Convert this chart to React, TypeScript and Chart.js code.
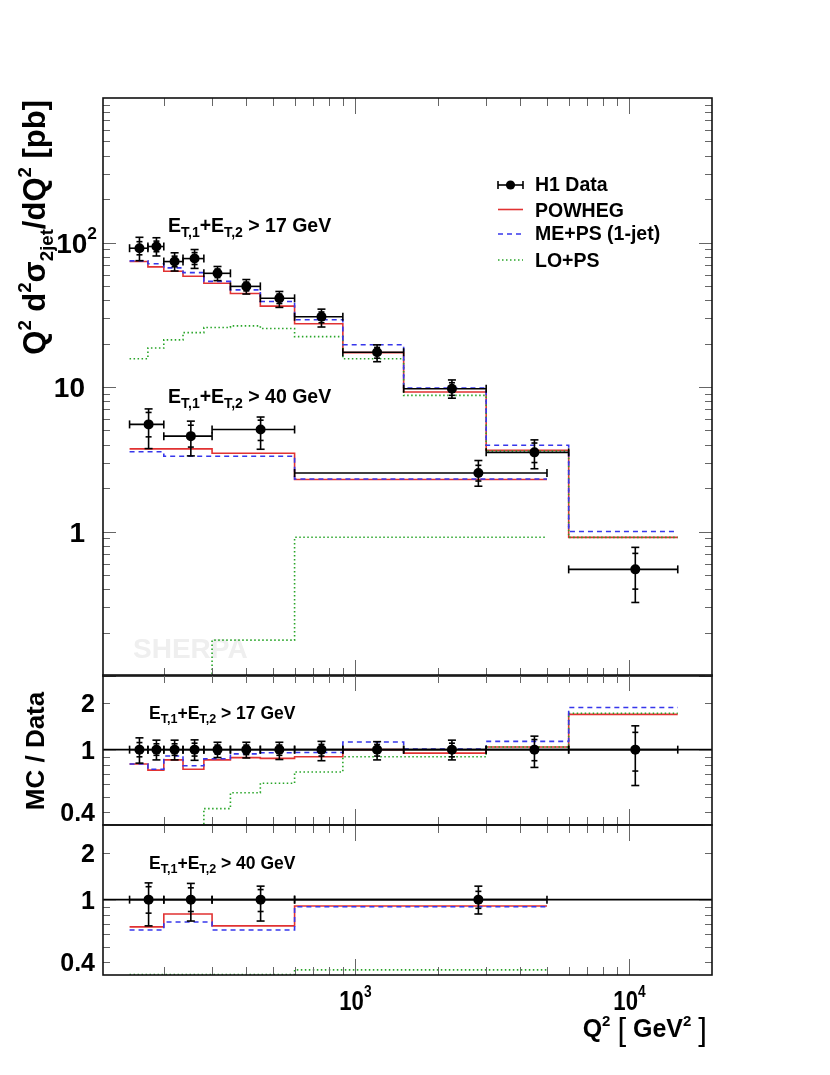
import { useEffect, useRef } from "react";
import { Chart, registerables } from "chart.js";

Chart.register(...registerables);

// ---------------- data ----------------
const Q2_RANGE = [120, 20000];
const XSEC_RANGE = [0.1, 1000];
const RATIO_RANGE = [0.33, 3.0];

// E_T,1 + E_T,2 > 17 GeV
const EDGES_17 = [150, 175, 200, 235, 280, 350, 450, 600, 900, 1500, 3000, 6000, 15000];
const XPOS_17 = [163, 188, 219, 259, 314, 400, 528, 752, 1200, 2250, 4500, 10500];
const DATA_17 = [91.3, 93.8, 73.8, 77.4, 61.2, 49.7, 41.1, 30.6, 17.4, 9.73, 3.53, 0.547];
const TOT_UP_17 = [0.19, 0.15, 0.15, 0.155, 0.115, 0.115, 0.115, 0.13, 0.125, 0.15, 0.22, 0.42];
const TOT_DN_17 = [0.18, 0.14, 0.14, 0.145, 0.11, 0.115, 0.135, 0.15, 0.14, 0.14, 0.23, 0.41];
const STAT_UP_17 = [0.11, 0.09, 0.09, 0.1, 0.07, 0.07, 0.07, 0.08, 0.08, 0.1, 0.16, 0.29];
const STAT_DN_17 = [0.1, 0.08, 0.08, 0.09, 0.065, 0.07, 0.08, 0.09, 0.09, 0.1, 0.15, 0.27];
const POWHEG_17 = [73.8, 67.8, 63.2, 58.4, 52.2, 44.4, 36.3, 27.4, 17.3, 9.23, 3.65, 0.91];
const MEPS_17 = [74.6, 71.2, 66.7, 61.9, 53.8, 47.0, 39.1, 29.2, 19.6, 9.84, 3.95, 1.0];
const LOPS_17 = [15.7, 18.6, 21.2, 23.8, 25.8, 26.5, 25.4, 22.3, 15.7, 8.75, 3.61, 0.91];
const R_POWHEG_17 = [0.81, 0.74, 0.86, 0.75, 0.86, 0.89, 0.88, 0.9, 1.0, 0.95, 1.04, 1.68];
const R_MEPS_17 = [0.81, 0.75, 0.91, 0.79, 0.875, 0.94, 0.955, 0.96, 1.12, 1.01, 1.13, 1.86];
const R_LOPS_17 = [0.17, 0.2, 0.29, 0.31, 0.42, 0.53, 0.61, 0.72, 0.9, 0.9, 1.04, 1.71];

// E_T,1 + E_T,2 > 40 GeV
const EDGES_40 = [150, 200, 300, 600, 5000];
const XPOS_40 = [176, 251, 451, 2810];
const DATA_40 = [5.51, 4.57, 5.08, 2.54];
const TOT_UP_40 = [0.28, 0.27, 0.22, 0.22];
const TOT_DN_40 = [0.32, 0.27, 0.27, 0.19];
const STAT_UP_40 = [0.21, 0.19, 0.16, 0.13];
const STAT_DN_40 = [0.18, 0.16, 0.16, 0.12];
const POWHEG_40 = [3.73, 3.73, 3.48, 2.29];
const MEPS_40 = [3.56, 3.32, 3.32, 2.31];
const LOPS_40 = [0.05, 0.05, 0.177, 0.913];
const R_POWHEG_40 = [0.67, 0.81, 0.68, 0.91];
const R_MEPS_40 = [0.64, 0.72, 0.64, 0.9];
const R_LOPS_40 = [0.332, 0.332, 0.332, 0.356];

// tick labels
const X_LABEL_VALUES = [1000, 10000];
const X_LABEL_EXPS = ["3", "4"];
const TOP_Y_LABEL_VALUES = [1, 10, 100];
const TOP_Y_LABEL_BASES = ["1", "10", "10"];
const TOP_Y_LABEL_EXPS = ["", "", "2"];
const RATIO_LABEL_VALUES = [0.4, 1, 2];
const RATIO_LABEL_TEXTS = ["0.4", "1", "2"];
const RATIO_MINOR_TICKS = [0.4, 0.5, 0.6, 0.7, 0.8, 0.9, 2, 3];

const LEGEND_LABELS = ["H1 Data", "POWHEG", "ME+PS (1-jet)", "LO+PS"];

// ---------------- styling / layout ----------------
const CW = 830;
const CH = 1075;
const FONT = "'Liberation Sans', Arial, Helvetica, sans-serif";
const RED = "rgb(225,50,50)";
const BLUE = "rgb(55,55,235)";
const GREEN = "rgb(40,165,40)";
const PANEL_TOP = { left: 103, right: 712, top: 98, bottom: 676 };
const PANEL_R1 = { left: 103, right: 712, top: 675, bottom: 825 };
const PANEL_R2 = { left: 103, right: 712, top: 825, bottom: 975 };

type Seg = { t: string; k?: number; dy?: number; w?: string };

function drawRich(
  ctx: CanvasRenderingContext2D,
  segs: Seg[],
  x: number,
  y: number,
  size: number,
  o: { align?: "left" | "right" | "center"; rot?: number; sx?: number; color?: string } = {}
) {
  const align = o.align || "left";
  ctx.save();
  ctx.translate(x, y);
  if (o.rot) ctx.rotate(o.rot);
  ctx.scale(o.sx || 1, 1);
  ctx.textAlign = "left";
  ctx.textBaseline = "alphabetic";
  ctx.fillStyle = o.color || "#000";
  const fontOf = (s: Seg) => `${s.w || "bold"} ${size * (s.k || 1)}px ${FONT}`;
  let total = 0;
  const ws = segs.map((s) => {
    ctx.font = fontOf(s);
    const w = ctx.measureText(s.t).width;
    total += w;
    return w;
  });
  let cx = align === "left" ? 0 : align === "right" ? -total : -total / 2;
  segs.forEach((s, i) => {
    ctx.font = fontOf(s);
    ctx.fillText(s.t, cx, (s.dy || 0) * size);
    cx += ws[i];
  });
  ctx.restore();
}

function line(ctx: CanvasRenderingContext2D, x1: number, y1: number, x2: number, y2: number) {
  ctx.beginPath();
  ctx.moveTo(x1, y1);
  ctx.lineTo(x2, y2);
  ctx.stroke();
}

function stepPoints(edges: number[], vals: number[]) {
  const pts = vals.map((v, i) => ({ x: edges[i], y: v }));
  pts.push({ x: edges[edges.length - 1], y: vals[vals.length - 1] });
  return pts;
}

function hist(edges: number[], vals: number[], color: string, dash: number[]) {
  return {
    data: stepPoints(edges, vals),
    borderColor: color,
    borderWidth: 1.6,
    borderDash: dash,
    stepped: true,
    pointRadius: 0,
    fill: false,
  };
}

function markers(xs: number[], ys: number[]) {
  return {
    data: xs.map((x, i) => ({ x, y: ys[i] })),
    showLine: false,
    pointRadius: 5,
    pointBackgroundColor: "#000",
    pointBorderColor: "#000",
    pointBorderWidth: 0,
  };
}

const ONES_17 = DATA_17.map(() => 1);
const ONES_40 = DATA_40.map(() => 1);

type Series = {
  xpos: number[];
  y: number[];
  edges: number[];
  tu: number[];
  td: number[];
  su: number[];
  sd: number[];
};

function drawErrors(ctx: CanvasRenderingContext2D, xs: any, ys: any, s: Series) {
  ctx.strokeStyle = "#000";
  ctx.lineWidth = 1.6;
  ctx.setLineDash([]);
  s.y.forEach((v, i) => {
    const px = xs.getPixelForValue(s.xpos[i]);
    const py = ys.getPixelForValue(v);
    const xl = xs.getPixelForValue(s.edges[i]);
    const xh = xs.getPixelForValue(s.edges[i + 1]);
    const yu = ys.getPixelForValue(v * (1 + s.tu[i]));
    const yd = ys.getPixelForValue(v * (1 - s.td[i]));
    const su = ys.getPixelForValue(v * (1 + s.su[i]));
    const sd = ys.getPixelForValue(v * (1 - s.sd[i]));
    line(ctx, xl, py, xh, py);
    line(ctx, xl, py - 4, xl, py + 4);
    line(ctx, xh, py - 4, xh, py + 4);
    line(ctx, px, yu, px, yd);
    line(ctx, px - 4, yu, px + 4, yu);
    line(ctx, px - 4, yd, px + 4, yd);
    line(ctx, px - 3, su, px + 3, su);
    line(ctx, px - 3, sd, px + 3, sd);
  });
}

function drawFrame(ctx: CanvasRenderingContext2D, chart: any, yTicks: { v: number; major: boolean }[]) {
  const a = chart.chartArea;
  const xs = chart.scales.x;
  const ys = chart.scales.y;
  ctx.save();
  ctx.setLineDash([]);
  ctx.strokeStyle = "#666";
  ctx.lineWidth = 1;
  for (let k = 2; k <= 4; k++) {
    for (let m = 1; m <= 9; m++) {
      const v = m * Math.pow(10, k);
      if (v <= Q2_RANGE[0] || v >= Q2_RANGE[1]) continue;
      const px = Math.round(xs.getPixelForValue(v)) + 0.5;
      const len = m === 1 ? 16 : 8;
      line(ctx, px, a.top, px, a.top + len);
      line(ctx, px, a.bottom - len, px, a.bottom);
    }
  }
  yTicks.forEach((t) => {
    const py = Math.round(ys.getPixelForValue(t.v)) + 0.5;
    const len = t.major ? 13 : 7;
    line(ctx, a.left, py, a.left + len, py);
    line(ctx, a.right - len, py, a.right, py);
  });
  ctx.strokeStyle = "#111";
  ctx.lineWidth = 1.6;
  ctx.strokeRect(a.left, a.top, a.right - a.left, a.bottom - a.top);
  ctx.restore();
}

function etLabel(cut: string): Seg[] {
  return [
    { t: "E" },
    { t: "T,1", k: 0.72, dy: 0.24 },
    { t: "+E" },
    { t: "T,2", k: 0.72, dy: 0.24 },
    { t: " > " + cut + " GeV" },
  ];
}

const TOP_Y_TICKS: { v: number; major: boolean }[] = [];
for (let k = -1; k <= 2; k++) {
  for (let m = 1; m <= 9; m++) TOP_Y_TICKS.push({ v: m * Math.pow(10, k), major: m === 1 });
}
const RATIO_Y_TICKS = RATIO_MINOR_TICKS.map((v) => ({ v, major: false })).concat([{ v: 1, major: true }]);

const topOverlay = {
  id: "topOverlay",
  beforeDatasetsDraw(chart: any) {
    const ctx = chart.ctx as CanvasRenderingContext2D;
    drawRich(ctx, [{ t: "SHERPA" }], 133, 658, 28, { color: "#efefef" });
  },
  afterDatasetsDraw(chart: any) {
    const ctx = chart.ctx as CanvasRenderingContext2D;
    const xs = chart.scales.x;
    const ys = chart.scales.y;
    ctx.save();
    drawErrors(ctx, xs, ys, {
      xpos: XPOS_17, y: DATA_17, edges: EDGES_17,
      tu: TOT_UP_17, td: TOT_DN_17, su: STAT_UP_17, sd: STAT_DN_17,
    });
    drawErrors(ctx, xs, ys, {
      xpos: XPOS_40, y: DATA_40, edges: EDGES_40,
      tu: TOT_UP_40, td: TOT_DN_40, su: STAT_UP_40, sd: STAT_DN_40,
    });
    ctx.restore();
    drawFrame(ctx, chart, TOP_Y_TICKS);

    // y tick labels
    TOP_Y_LABEL_VALUES.forEach((v, i) => {
      const py = ys.getPixelForValue(v) + 10;
      const segs: Seg[] = [{ t: TOP_Y_LABEL_BASES[i] }];
      if (TOP_Y_LABEL_EXPS[i]) segs.push({ t: TOP_Y_LABEL_EXPS[i], k: 0.62, dy: -0.48 });
      drawRich(ctx, segs, TOP_Y_LABEL_EXPS[i] ? 97 : 85, py, 28, { align: "right" });
    });

    // y title
    drawRich(
      ctx,
      [
        { t: "Q" },
        { t: "2", k: 0.6, dy: -0.45 },
        { t: " d" },
        { t: "2", k: 0.6, dy: -0.45 },
        { t: "σ" },
        { t: "2jet", k: 0.6, dy: 0.25 },
        { t: "/dQ" },
        { t: "2", k: 0.6, dy: -0.45 },
        { t: " [pb]" },
      ],
      45, 100, 31, { align: "right", rot: -Math.PI / 2 }
    );

    // panel labels
    drawRich(ctx, etLabel("17"), 168, 232, 19.5);
    drawRich(ctx, etLabel("40"), 168, 403, 19.5);

    // legend
    ctx.save();
    ctx.lineWidth = 1.6;
    ctx.strokeStyle = "#000";
    const lx1 = 498, lx2 = 523;
    line(ctx, lx1, 185, lx2, 185);
    line(ctx, lx1, 181, lx1, 189);
    line(ctx, lx2, 181, lx2, 189);
    ctx.fillStyle = "#000";
    ctx.beginPath();
    ctx.arc((lx1 + lx2) / 2, 185, 4.6, 0, Math.PI * 2);
    ctx.fill();
    ctx.strokeStyle = RED;
    line(ctx, lx1, 209.5, lx2, 209.5);
    ctx.strokeStyle = BLUE;
    ctx.setLineDash([5, 4]);
    line(ctx, lx1, 234, lx2, 234);
    ctx.strokeStyle = GREEN;
    ctx.setLineDash([1.5, 2.5]);
    line(ctx, lx1, 260, lx2, 260);
    ctx.restore();
    const legBase = [191, 217, 240, 267];
    LEGEND_LABELS.forEach((t, i) => drawRich(ctx, [{ t }], 535, legBase[i], 19.5));
  },
};

const r1Overlay = {
  id: "r1Overlay",
  afterDatasetsDraw(chart: any) {
    const ctx = chart.ctx as CanvasRenderingContext2D;
    const xs = chart.scales.x;
    const ys = chart.scales.y;
    const a = chart.chartArea;
    ctx.save();
    ctx.strokeStyle = "#000";
    ctx.lineWidth = 1.6;
    const y1 = ys.getPixelForValue(1);
    line(ctx, a.left, y1, a.right, y1);
    drawErrors(ctx, xs, ys, {
      xpos: XPOS_17, y: ONES_17, edges: EDGES_17,
      tu: TOT_UP_17, td: TOT_DN_17, su: STAT_UP_17, sd: STAT_DN_17,
    });
    ctx.restore();
    drawFrame(ctx, chart, RATIO_Y_TICKS);
    RATIO_LABEL_VALUES.forEach((v, i) =>
      drawRich(ctx, [{ t: RATIO_LABEL_TEXTS[i] }], 95, ys.getPixelForValue(v) + 9, 25, { align: "right" })
    );
    drawRich(ctx, etLabel("17"), 149, 719, 17.5);
    drawRich(ctx, [{ t: "MC / Data" }], 44, 751, 26, { align: "center", rot: -Math.PI / 2 });
  },
};

const r2Overlay = {
  id: "r2Overlay",
  afterDatasetsDraw(chart: any) {
    const ctx = chart.ctx as CanvasRenderingContext2D;
    const xs = chart.scales.x;
    const ys = chart.scales.y;
    const a = chart.chartArea;
    ctx.save();
    ctx.strokeStyle = "#000";
    ctx.lineWidth = 1.6;
    const y1 = ys.getPixelForValue(1);
    line(ctx, a.left, y1, a.right, y1);
    drawErrors(ctx, xs, ys, {
      xpos: XPOS_40, y: ONES_40, edges: EDGES_40,
      tu: TOT_UP_40, td: TOT_DN_40, su: STAT_UP_40, sd: STAT_DN_40,
    });
    ctx.restore();
    drawFrame(ctx, chart, RATIO_Y_TICKS);
    RATIO_LABEL_VALUES.forEach((v, i) =>
      drawRich(ctx, [{ t: RATIO_LABEL_TEXTS[i] }], 95, ys.getPixelForValue(v) + 9, 25, { align: "right" })
    );
    drawRich(ctx, etLabel("40"), 149, 869, 17.5);
    // x tick labels
    X_LABEL_VALUES.forEach((v, i) => {
      const px = xs.getPixelForValue(v);
      drawRich(ctx, [{ t: "10" }, { t: X_LABEL_EXPS[i], k: 0.62, dy: -0.48 }], px, 1010, 27, {
        align: "center",
        sx: 0.82,
      });
    });
    // x title
    drawRich(
      ctx,
      [
        { t: "Q" },
        { t: "2", k: 0.6, dy: -0.45 },
        { t: " " },
        { t: "[", w: "normal", k: 1.25, dy: 0.12 },
        { t: " GeV" },
        { t: "2", k: 0.6, dy: -0.45 },
        { t: " " },
        { t: "]", w: "normal", k: 1.25, dy: 0.12 },
      ],
      707, 1037, 25, { align: "right" }
    );
  },
};

function makeChart(
  canvas: HTMLCanvasElement,
  panel: { left: number; right: number; top: number; bottom: number },
  yRange: number[],
  datasets: any[],
  overlay: any
) {
  return new Chart(canvas, {
    type: "line",
    data: { datasets },
    options: {
      responsive: false,
      animation: false,
      devicePixelRatio: 1,
      events: [],
      layout: {
        padding: { left: panel.left, right: CW - panel.right, top: panel.top, bottom: CH - panel.bottom },
      },
      plugins: { legend: { display: false }, tooltip: { enabled: false }, title: { display: false } },
      scales: {
        x: { type: "logarithmic", min: Q2_RANGE[0], max: Q2_RANGE[1], display: false, bounds: "data" },
        y: { type: "logarithmic", min: yRange[0], max: yRange[1], display: false, bounds: "data" },
      },
    } as any,
    plugins: [overlay],
  });
}

export default function App() {
  const c1 = useRef<HTMLCanvasElement>(null);
  const c2 = useRef<HTMLCanvasElement>(null);
  const c3 = useRef<HTMLCanvasElement>(null);

  useEffect(() => {
    const top = makeChart(c1.current!, PANEL_TOP, XSEC_RANGE, [
      markers(XPOS_17, DATA_17),
      markers(XPOS_40, DATA_40),
      hist(EDGES_17, MEPS_17, BLUE, [5, 4]),
      hist(EDGES_40, MEPS_40, BLUE, [5, 4]),
      hist(EDGES_17, LOPS_17, GREEN, [1.5, 2.5]),
      hist(EDGES_40, LOPS_40, GREEN, [1.5, 2.5]),
      hist(EDGES_17, POWHEG_17, RED, []),
      hist(EDGES_40, POWHEG_40, RED, []),
    ], topOverlay);
    const r1 = makeChart(c2.current!, PANEL_R1, RATIO_RANGE, [
      markers(XPOS_17, ONES_17),
      hist(EDGES_17, R_MEPS_17, BLUE, [5, 4]),
      hist(EDGES_17, R_LOPS_17, GREEN, [1.5, 2.5]),
      hist(EDGES_17, R_POWHEG_17, RED, []),
    ], r1Overlay);
    const r2 = makeChart(c3.current!, PANEL_R2, RATIO_RANGE, [
      markers(XPOS_40, ONES_40),
      hist(EDGES_40, R_MEPS_40, BLUE, [5, 4]),
      hist(EDGES_40, R_LOPS_40, GREEN, [1.5, 2.5]),
      hist(EDGES_40, R_POWHEG_40, RED, []),
    ], r2Overlay);
    return () => {
      top.destroy();
      r1.destroy();
      r2.destroy();
    };
  }, []);

  const cs: React.CSSProperties = { position: "absolute", left: 0, top: 0 };
  return (
    <div style={{ position: "absolute", left: 0, top: 0, width: CW, height: CH, background: "#fff" }}>
      <canvas ref={c1} width={CW} height={CH} style={cs} />
      <canvas ref={c2} width={CW} height={CH} style={cs} />
      <canvas ref={c3} width={CW} height={CH} style={cs} />
    </div>
  );
}
